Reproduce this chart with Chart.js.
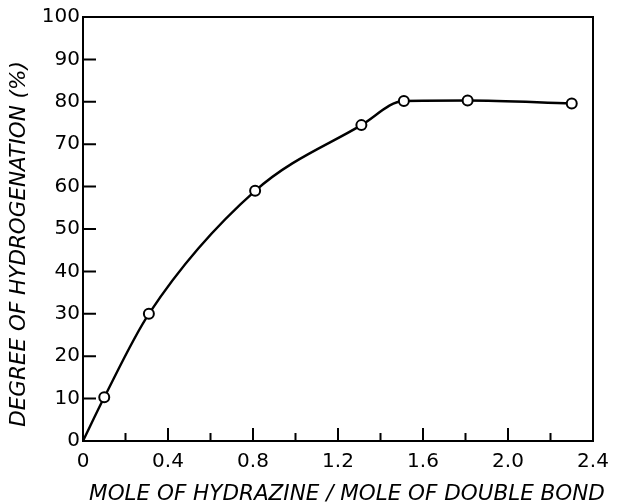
<!DOCTYPE html>
<html lang="en">
<head>
    <meta charset="UTF-8">
    <title>Degree of hydrogenation</title>
    <script src="https://cdn.jsdelivr.net/npm/chart.js"></script>
    <style>
        body { margin: 0; background: #fff; overflow: hidden; }
        canvas { display: block; }
    </style>
</head>
<body>
    <canvas id="chart" width="623" height="502"></canvas>

    <script>
        // measured points
        const hydrazineRatio = [0.10, 0.31, 0.81, 1.31, 1.51, 1.81, 2.30];
        const hydrogenation = [10.3, 30.0, 59.0, 74.5, 80.2, 80.3, 79.6];
        // the drawn curve starts at the origin, then passes through the points
        const curveStart = { x: 0, y: 0 };

        const xMajorTicks = [0, 0.4, 0.8, 1.2, 1.6, 2.0, 2.4];
        const xMinorTicks = [0.2, 0.6, 1.0, 1.4, 1.8, 2.2];
        const yTicks = [0, 10, 20, 30, 40, 50, 60, 70, 80, 90, 100];

        const xTitle = 'MOLE OF HYDRAZINE / MOLE OF DOUBLE BOND';
        const yTitle = 'DEGREE OF HYDROGENATION (%)';

        const points = hydrazineRatio.map((x, i) => ({ x: x, y: hydrogenation[i] }));
        const fontFamily = "'DejaVu Sans', sans-serif";

        // box frame + inward tick marks + axis titles like the printed figure
        const frameTicks = {
            id: 'frameTicks',
            afterDatasetsDraw(chart) {
                const { ctx, chartArea: a, scales: { x, y } } = chart;
                ctx.save();
                ctx.strokeStyle = '#000';
                ctx.lineWidth = 2;
                ctx.strokeRect(a.left, a.top, a.right - a.left, a.bottom - a.top);
                ctx.beginPath();
                yTicks.forEach(v => {
                    const py = y.getPixelForValue(v);
                    ctx.moveTo(a.left, py); ctx.lineTo(a.left + 13, py);
                });
                xMajorTicks.forEach(v => {
                    const px = x.getPixelForValue(v);
                    ctx.moveTo(px, a.bottom); ctx.lineTo(px, a.bottom - 13);
                });
                xMinorTicks.forEach(v => {
                    const px = x.getPixelForValue(v);
                    ctx.moveTo(px, a.bottom); ctx.lineTo(px, a.bottom - 8);
                });
                ctx.stroke();

                ctx.fillStyle = '#000';
                ctx.textAlign = 'center';
                ctx.textBaseline = 'alphabetic';
                ctx.font = 'italic 21.5px ' + fontFamily;
                ctx.fillText(xTitle, a.left + 264, a.bottom + 59);

                ctx.translate(25, a.top + 227);
                ctx.rotate(-Math.PI / 2);
                ctx.fillText(yTitle, 0, 0);
                ctx.restore();
            }
        };

        new Chart(document.getElementById('chart').getContext('2d'), {
            type: 'scatter',
            data: {
                datasets: [
                    {
                        label: 'measured',
                        data: points,
                        showLine: false,
                        pointRadius: 5,
                        pointBorderWidth: 2,
                        pointBackgroundColor: '#fff',
                        pointBorderColor: '#000',
                        order: 0
                    },
                    {
                        label: 'curve',
                        data: [curveStart].concat(points),
                        showLine: true,
                        cubicInterpolationMode: 'monotone',
                        borderColor: '#000',
                        borderWidth: 2.4,
                        pointRadius: 0,
                        order: 1
                    }
                ]
            },
            options: {
                responsive: false,
                animation: false,
                layout: { padding: { top: 17, right: 30, left: 0, bottom: 0 } },
                plugins: {
                    legend: { display: false },
                    tooltip: { enabled: false }
                },
                scales: {
                    x: {
                        type: 'linear',
                        min: 0,
                        max: 2.4,
                        afterBuildTicks: s => { s.ticks = xMajorTicks.map(v => ({ value: v })); },
                        afterFit: s => { s.height = 61; },
                        grid: { display: false, drawTicks: false },
                        border: { display: false },
                        ticks: {
                            padding: 9,
                            color: '#000',
                            font: { family: fontFamily, size: 20 },
                            maxRotation: 0,
                            callback: v => v === 0 ? '0' : v.toFixed(1)
                        }
                    },
                    y: {
                        min: 0,
                        max: 100,
                        afterBuildTicks: s => { s.ticks = yTicks.map(v => ({ value: v })); },
                        afterFit: s => { s.width = 83; },
                        grid: { display: false, drawTicks: false },
                        border: { display: false },
                        ticks: {
                            padding: 3,
                            color: '#000',
                            font: { family: fontFamily, size: 20 }
                        }
                    }
                }
            },
            plugins: [frameTicks]
        });
    </script>
</body>
</html>
